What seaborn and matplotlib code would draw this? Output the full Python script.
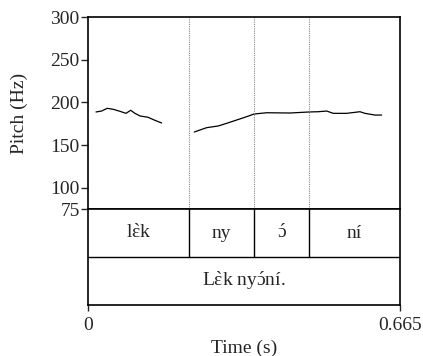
import matplotlib
matplotlib.use("Agg")
import matplotlib.pyplot as plt
import seaborn as sns
import pandas as pd

# pitch track, two voiced stretches (time s, pitch Hz)
seg1_time = [0.017, 0.029, 0.041, 0.054, 0.068, 0.081, 0.091, 0.100, 0.111, 0.128, 0.141, 0.157]
seg1_pitch = [188.7, 189.8, 193.0, 191.8, 189.5, 187.1, 190.7, 187.1, 184.0, 182.5, 179.3, 175.8]
seg2_time = [0.2265, 0.2387, 0.2529, 0.2777, 0.2956, 0.3169, 0.3346, 0.3538, 0.3808, 0.4305,
             0.4716, 0.4908, 0.5087, 0.5228, 0.5513, 0.5797, 0.5903, 0.6116, 0.6259]
seg2_pitch = [165.2, 167.6, 170.3, 172.3, 175.4, 179.3, 182.5, 186.3, 187.8, 187.5,
              188.7, 189.0, 189.8, 187.1, 187.1, 189.0, 187.1, 185.1, 185.1]

# textgrid (accents via mathtext so they sit on the right letter)
boundaries = [0.2153, 0.3538, 0.471]
syllables = ["l$\\grave{\u025b}$k", "ny", "$\\acute{\u0254}$", "n\u00ed"]
sentence = "L$\\grave{\u025b}$k ny$\\acute{\u0254}$n\u00ed."
t_end = 0.665
y_ticks = [75, 100, 150, 200, 250, 300]

sns.set_style("white")
plt.rcParams['font.family'] = ['Liberation Serif', 'DejaVu Serif']
plt.rcParams['font.size'] = 12
plt.rcParams['mathtext.fontset'] = 'custom'
plt.rcParams['mathtext.rm'] = 'Liberation Serif'
plt.rcParams['mathtext.it'] = 'Liberation Serif'
plt.rcParams['mathtext.bf'] = 'Liberation Serif:bold'
plt.rcParams['mathtext.default'] = 'regular'

fig = plt.figure(figsize=(4.23, 3.56), dpi=100)
ax = fig.add_axes([88/423, 1-209/356, 312/423, 192/356])
ax2 = fig.add_axes([88/423, 1-305/356, 312/423, 96/356], sharex=ax)

df1 = pd.DataFrame({"t": seg1_time, "f0": seg1_pitch})
df2 = pd.DataFrame({"t": seg2_time, "f0": seg2_pitch})
sns.lineplot(data=df1, x="t", y="f0", ax=ax, color="black", linewidth=0.9)
sns.lineplot(data=df2, x="t", y="f0", ax=ax, color="black", linewidth=0.9)

for b in boundaries:
    ax.axvline(b, color="#888888", linestyle=(0, (1, 1)), linewidth=0.8)

ax.set_xlim(0, t_end)
ax.set_ylim(75, 300)
ax.set_yticks(y_ticks)
ax.set_yticklabels([str(v) for v in y_ticks])
ax.tick_params(axis="y", direction="out", length=5, width=1, pad=1, labelsize=14, left=True)
ax.tick_params(axis="x", bottom=False, labelbottom=False)
ax.set_xlabel("")
ax.set_ylabel("Pitch (Hz)", fontsize=14, labelpad=16)
for s in ax.spines.values():
    s.set_color("black")
    s.set_linewidth(1.2)

# tiers
ax2.set_ylim(0, 2)
ax2.axhline(1, color="black", linewidth=1)
for b in boundaries:
    ax2.plot([b, b], [1, 2], color="black", linewidth=1)
edges = [0] + boundaries + [t_end]
for i, lab in enumerate(syllables):
    ax2.text((edges[i] + edges[i+1]) / 2, 1.5, lab, ha="center", va="center", fontsize=14)
ax2.text(t_end / 2, 0.5, sentence, ha="center", va="center", fontsize=14)
ax2.set_yticks([])
ax2.set_xticks([0, t_end])
ax2.set_xticklabels(["0", "0.665"])
ax2.tick_params(axis="x", direction="out", length=4, width=1, pad=5, labelsize=14, bottom=True)
ax2.set_xlabel("Time (s)", fontsize=14, labelpad=4)
for s in ax2.spines.values():
    s.set_color("black")
    s.set_linewidth(1.2)

fig.savefig("out.png", dpi=100)
